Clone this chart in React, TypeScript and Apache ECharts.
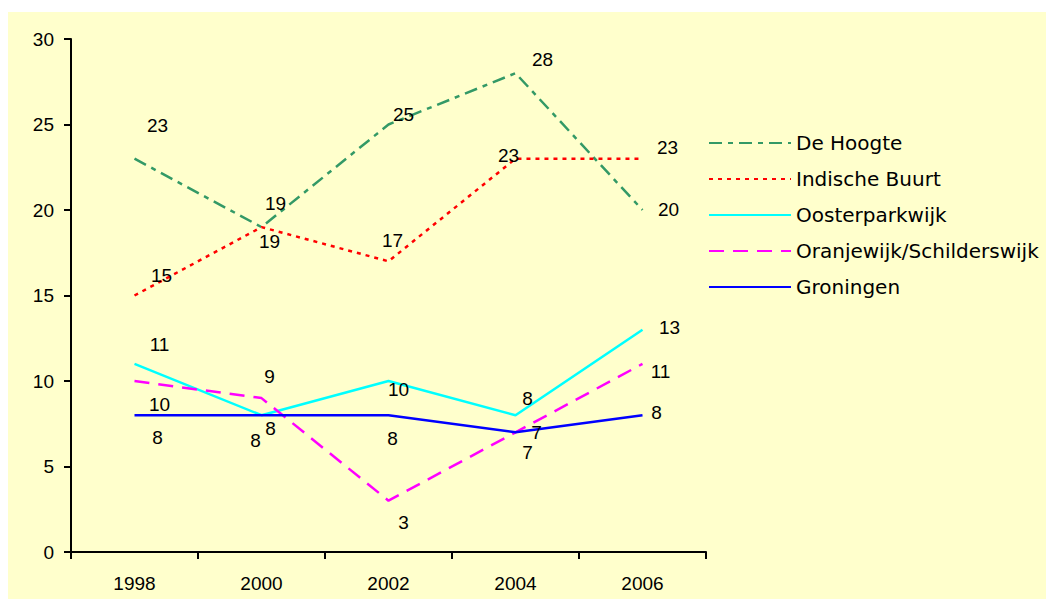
import React, { useEffect, useRef } from "react";
import * as echarts from "echarts";

const years = ["1998", "2000", "2002", "2004", "2006"];
const deHoogte = [23, 19, 25, 28, 20];
const indischeBuurt = [15, 19, 17, 23, 23];
const oosterparkwijk = [11, 8, 10, 8, 13];
const oranjewijk = [10, 9, 3, 7, 11];
const groningen = [8, 8, 8, 7, 8];

// label placement (pixel offsets from each point), styling only
const offDeHoogte = [[23, -33], [14, -24], [15, -10], [27, -14], [26, -1]];
const offIndische = [[27, -20], [8, 14], [4, -21], [-7, -3], [25, -11]];
const offOoster = [[25, -19], [9, 13], [10, 8], [12, -17], [27, -2]];
const offOranje = [[25, 23], [8, -22], [15, 22], [12, 20], [18, 8]];
const offGroningen = [[23, 22], [-6, 25], [4, 23], [21, 0], [14, -3]];

const NUMFONT = "'Liberation Sans', Arial, sans-serif";
const TEXTFONT = "'DejaVu Sans', Verdana, sans-serif";

function mkSeries(name: string, values: number[], offs: number[][], color: string, type: any) {
  return {
    name,
    type: "line",
    symbol: "circle",
    symbolSize: 0,
    data: values.map((v, i) => ({
      value: v,
      label: { offset: offs[i] },
    })),
    lineStyle: { color, width: 2.5, type },
    itemStyle: { color },
    emphasis: { disabled: true },
    label: {
      show: true,
      position: "inside",
      color: "#000",
      fontSize: 19,
      fontFamily: NUMFONT,
    },
  };
}

export default function App() {
  const ref = useRef<HTMLDivElement>(null);
  useEffect(() => {
    if (!ref.current) return;
    const chart = echarts.init(ref.current, null, { renderer: "svg" });
    chart.setOption({
      animation: false,
      backgroundColor: "#FFFFCC",
      textStyle: { fontFamily: NUMFONT },
      grid: { left: 63, top: 27, width: 635, height: 513, containLabel: false, outerBoundsMode: "none" },
      legend: {
        orient: "vertical",
        left: 700,
        top: 121,
        padding: 0,
        itemWidth: 82,
        itemHeight: 20,
        itemGap: 16,
        itemStyle: { opacity: 0 },
        textStyle: { fontSize: 20, color: "#000", fontFamily: TEXTFONT, lineHeight: 20 },
        data: ["De Hoogte", "Indische Buurt", "Oosterparkwijk", "Oranjewijk/Schilderswijk", "Groningen"],
      },
      xAxis: {
        type: "category",
        data: years,
        boundaryGap: true,
        axisLine: { lineStyle: { color: "#000", width: 2 } },
        axisTick: { show: true, length: 7, lineStyle: { color: "#000", width: 2 } },
        axisLabel: { color: "#000", fontSize: 19, margin: 22, fontFamily: NUMFONT },
        splitLine: { show: false },
      },
      yAxis: {
        type: "value",
        min: 0,
        max: 30,
        interval: 5,
        axisLine: { show: true, lineStyle: { color: "#000", width: 2 } },
        axisTick: { show: true, length: 7, lineStyle: { color: "#000", width: 2 } },
        axisLabel: { color: "#000", fontSize: 19, margin: 17, fontFamily: NUMFONT },
        splitLine: { show: false },
      },
      series: [
        mkSeries("De Hoogte", deHoogte, offDeHoogte, "#339966", [13, 6, 5, 6]),
        mkSeries("Indische Buurt", indischeBuurt, offIndische, "#FF0000", [4, 5]),
        mkSeries("Oosterparkwijk", oosterparkwijk, offOoster, "#00FFFF", "solid"),
        mkSeries("Oranjewijk/Schilderswijk", oranjewijk, offOranje, "#FF00FF", [15, 9]),
        mkSeries("Groningen", groningen, offGroningen, "#0000FF", "solid"),
      ],
    });
    return () => chart.dispose();
  }, []);
  return (
    <div style={{ paddingTop: 4 }}>
      <div ref={ref} style={{ width: 1046, height: 587 }} />
    </div>
  );
}
